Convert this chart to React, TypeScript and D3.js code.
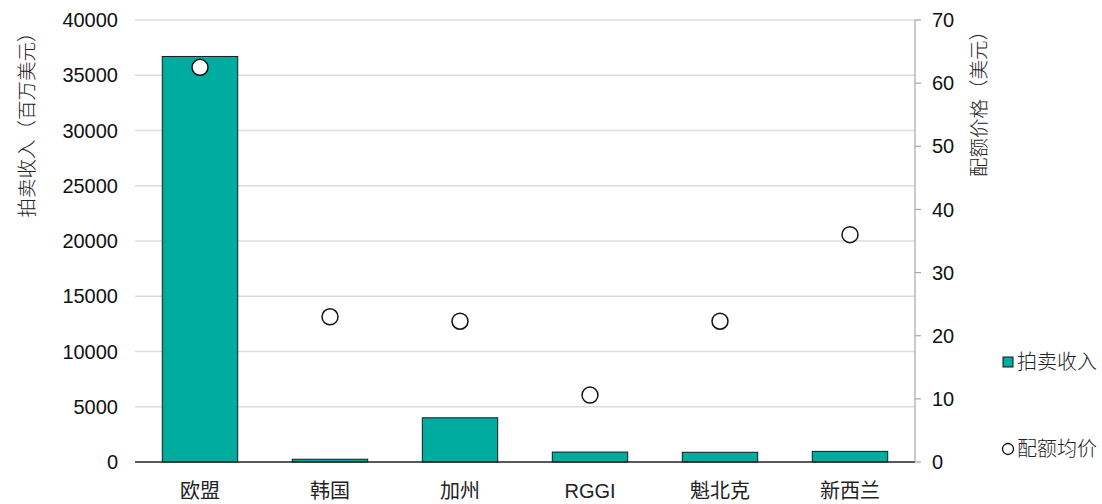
import React from "react";
import * as d3 from "d3";

// Carbon market auction revenue (million USD) and average allowance price (USD)
const categories = ["欧盟", "韩国", "加州", "RGGI", "魁北克", "新西兰"];
const revenue = [36700, 250, 4000, 900, 880, 960];
const price = [62.5, 23.0, 22.3, 10.6, 22.3, 36.0];
const leftTicks = [0, 5000, 10000, 15000, 20000, 25000, 30000, 35000, 40000];
const rightTicks = [0, 10, 20, 30, 40, 50, 60, 70];

const W = 1102;
const H = 504;
const M = { left: 135, right: 915, top: 20, bottom: 462 };

const NUM_FONT = "'Liberation Sans', Arial, sans-serif";
const CJK_FONT = "'Noto Sans CJK SC', 'Liberation Sans', sans-serif";
const TEAL = "#00AB9F";

export default function App() {
  const x = d3
    .scaleBand<string>()
    .domain(categories)
    .range([M.left, M.right])
    .paddingInner(0.42)
    .paddingOuter(0.21);
  const yL = d3.scaleLinear().domain([0, 40000]).range([M.bottom, M.top]);
  const yR = d3.scaleLinear().domain([0, 70]).range([M.bottom, M.top]);

  return (
    <svg
      width={W}
      height={H}
      style={{ position: "absolute", left: 0, top: 0, background: "#fff" }}
    >
      {/* gridlines */}
      {leftTicks.slice(1).map((t) => (
        <line
          key={t}
          x1={M.left}
          x2={M.right}
          y1={yL(t)}
          y2={yL(t)}
          stroke="#dcdcdc"
          strokeWidth={1.5}
        />
      ))}

      {/* left tick labels */}
      {leftTicks.map((t) => (
        <text
          key={t}
          x={118}
          y={yL(t)}
          dy="0.36em"
          textAnchor="end"
          fontFamily={NUM_FONT}
          fontSize={20}
          fill="#111"
        >
          {t}
        </text>
      ))}

      {/* bars */}
      {categories.map((c, i) => (
        <rect
          key={c}
          x={x(c)}
          y={yL(revenue[i])}
          width={x.bandwidth()}
          height={yL(0) - yL(revenue[i])}
          fill={TEAL}
          stroke="#1a1a1a"
          strokeWidth={1}
        />
      ))}

      {/* baseline */}
      <line
        x1={M.left}
        x2={M.right}
        y1={M.bottom}
        y2={M.bottom}
        stroke="#222"
        strokeWidth={1.5}
      />

      {/* right axis */}
      <line
        x1={M.right}
        x2={M.right}
        y1={M.top}
        y2={M.bottom}
        stroke="#a6a6a6"
        strokeWidth={1.2}
      />
      {rightTicks.map((t) => (
        <g key={t}>
          <line
            x1={M.right}
            x2={M.right + 6}
            y1={yR(t)}
            y2={yR(t)}
            stroke="#a6a6a6"
            strokeWidth={1.2}
          />
          <text
            x={932}
            y={yR(t)}
            dy="0.36em"
            textAnchor="start"
            fontFamily={NUM_FONT}
            fontSize={20}
            fill="#111"
          >
            {t}
          </text>
        </g>
      ))}

      {/* price markers */}
      {categories.map((c, i) => (
        <circle
          key={c}
          cx={(x(c) as number) + x.bandwidth() / 2}
          cy={yR(price[i])}
          r={8}
          fill="#fff"
          stroke="#111"
          strokeWidth={1.5}
        />
      ))}

      {/* category labels */}
      {categories.map((c) => (
        <text
          key={c}
          x={(x(c) as number) + x.bandwidth() / 2}
          y={498}
          textAnchor="middle"
          fontFamily={c === "RGGI" ? NUM_FONT : CJK_FONT}
          fontSize={20}
          fill="#222"
        >
          {c}
        </text>
      ))}

      {/* axis titles */}
      <text
        transform={`translate(27,120) rotate(-90)`}
        textAnchor="middle"
        dy="0.35em"
        fontFamily={CJK_FONT}
        fontSize={19.5}
        fontWeight={300}
        fill="#222"
      >
        拍卖收入（百万美元）
      </text>
      <text
        transform={`translate(979,99) rotate(-90)`}
        textAnchor="middle"
        dy="0.35em"
        fontFamily={CJK_FONT}
        fontSize={19.5}
        fontWeight={300}
        fill="#222"
      >
        配额价格（美元）
      </text>

      {/* legend */}
      <rect
        x={1003}
        y={357}
        width={10}
        height={10}
        fill={TEAL}
        stroke="#111"
        strokeWidth={1}
      />
      <text
        x={1017}
        y={362}
        dy="0.36em"
        fontFamily={CJK_FONT}
        fontSize={20}
        fontWeight={300}
        fill="#222"
      >
        拍卖收入
      </text>
      <circle cx={1008} cy={449} r={5.5} fill="#fff" stroke="#111" strokeWidth={1.3} />
      <text
        x={1017}
        y={449}
        dy="0.36em"
        fontFamily={CJK_FONT}
        fontSize={20}
        fontWeight={300}
        fill="#222"
      >
        配额均价
      </text>
    </svg>
  );
}
